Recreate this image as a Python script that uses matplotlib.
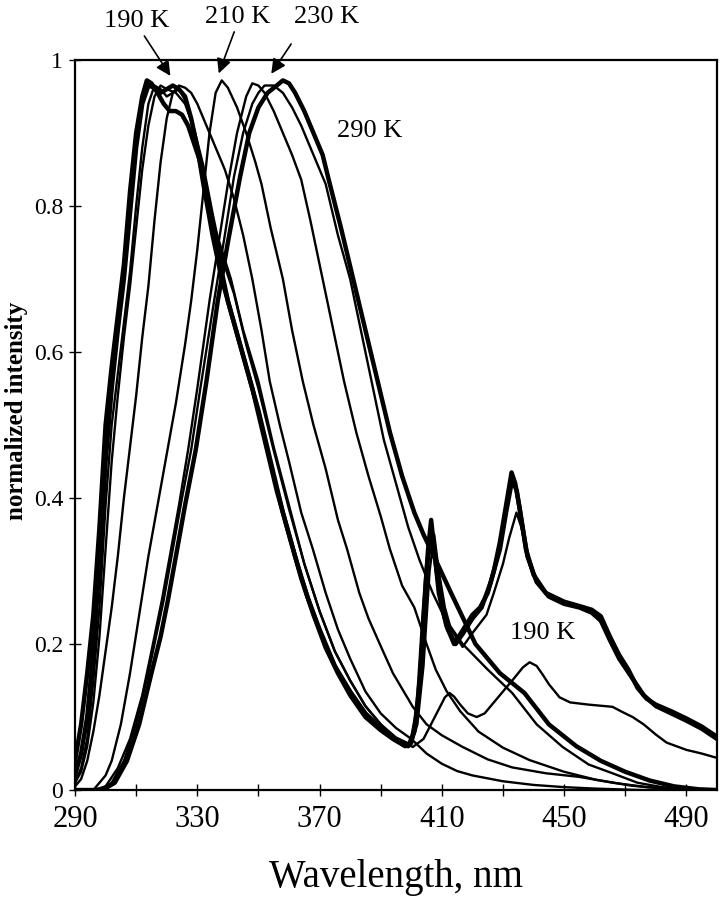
import matplotlib
matplotlib.use("Agg")
import matplotlib.pyplot as plt

plt.rcParams['font.family'] = ['Liberation Serif', 'DejaVu Serif']

# ---------------------------------------------------------------- data
# thick low-temperature curves (fluorescence + phosphorescence)
wl_a1 = [290, 292, 294, 296, 298, 300, 302, 304, 306, 308, 310, 312, 313.5, 315, 317, 319, 321, 323, 325,
         327, 329, 331, 334, 337, 340, 344, 348, 352, 356, 360, 364, 368, 372, 376, 380, 385, 390, 394, 398,
         400, 402, 404, 405.5, 406.5, 407.5, 409, 411.5, 414, 417, 420, 422.5, 425, 427, 429, 431, 432.8,
         434, 435.5, 437.5, 440, 444, 450, 455, 459, 462, 465, 468, 471, 474, 477, 480, 485, 490, 495, 500]
int_a1 = [0.04, 0.09, 0.16, 0.24, 0.36, 0.50, 0.58, 0.65, 0.72, 0.82, 0.90, 0.95, 0.972, 0.968, 0.955,
          0.94, 0.93, 0.93, 0.925, 0.91, 0.885, 0.86, 0.80, 0.73, 0.67, 0.61, 0.55, 0.48, 0.41, 0.35, 0.29,
          0.24, 0.195, 0.16, 0.13, 0.10, 0.082, 0.07, 0.06, 0.065, 0.11, 0.24, 0.33, 0.37, 0.33, 0.27,
          0.225, 0.20, 0.22, 0.24, 0.25, 0.27, 0.30, 0.34, 0.39, 0.435, 0.42, 0.385, 0.33, 0.295, 0.27,
          0.258, 0.252, 0.247, 0.238, 0.21, 0.185, 0.165, 0.14, 0.125, 0.117, 0.108, 0.098, 0.087, 0.073]

wl_a2 = [290, 292, 294, 296, 298, 300, 302, 304, 306, 308, 310, 312, 314, 316, 318, 320, 322, 324, 326,
         328, 330, 332, 335, 338, 342, 346, 350, 354, 358, 362, 366, 370, 375, 380, 385, 390, 395, 399,
         401, 403, 405, 406.5, 408, 410, 412, 414.5, 417, 420, 423, 426, 429, 431, 433, 434.5, 436, 438,
         441, 445, 450, 455, 459, 462, 465, 468, 472, 476, 480, 485, 490, 495, 500]
int_a2 = [0.02, 0.05, 0.10, 0.19, 0.31, 0.45, 0.55, 0.63, 0.70, 0.79, 0.88, 0.94, 0.965, 0.962, 0.955,
          0.96, 0.965, 0.96, 0.95, 0.92, 0.88, 0.83, 0.76, 0.70, 0.64, 0.58, 0.52, 0.45, 0.38, 0.32, 0.265,
          0.22, 0.17, 0.135, 0.105, 0.085, 0.068, 0.06, 0.08, 0.16, 0.30, 0.36, 0.31, 0.25, 0.22, 0.20,
          0.215, 0.235, 0.25, 0.285, 0.33, 0.38, 0.425, 0.41, 0.37, 0.32, 0.285, 0.265, 0.255, 0.25,
          0.243, 0.232, 0.205, 0.18, 0.155, 0.13, 0.115, 0.105, 0.095, 0.084, 0.07]

# thin curve, phosphorescence peak 0.38 (190 K)
wl_a3 = [290, 292, 294, 296, 298, 300, 302, 304, 306, 308, 310, 312, 314, 316, 318, 320, 322, 324, 326,
         328, 330, 332, 335, 338, 341, 345, 350, 355, 360, 365, 370, 375, 380, 385, 390, 395, 400, 402,
         404, 406, 407.5, 409, 411, 413, 416.8, 420, 424.6, 427, 430, 432, 434.4, 436, 438, 441, 445, 450,
         455, 460, 464, 468, 472, 476, 480, 485, 490, 495, 500]
int_a3 = [0.01, 0.03, 0.07, 0.15, 0.25, 0.39, 0.50, 0.57, 0.64, 0.71, 0.80, 0.88, 0.94, 0.965, 0.96,
          0.95, 0.955, 0.96, 0.945, 0.92, 0.885, 0.845, 0.78, 0.74, 0.70, 0.63, 0.56, 0.47, 0.39, 0.31,
          0.245, 0.19, 0.15, 0.115, 0.09, 0.072, 0.062, 0.09, 0.17, 0.30, 0.35, 0.30, 0.25, 0.22, 0.196,
          0.215, 0.24, 0.27, 0.31, 0.345, 0.38, 0.36, 0.32, 0.285, 0.265, 0.255, 0.25, 0.24, 0.22, 0.185,
          0.155, 0.13, 0.117, 0.107, 0.097, 0.086, 0.072]

# thin curve, weak phosphorescence (peak 0.175)
wl_a4 = [290, 292, 294, 296, 298, 300, 302, 304, 306, 308, 310, 312, 314, 316, 318, 320, 323, 326, 329,
         332, 335, 338, 342, 346, 350, 355, 360, 365, 370, 375, 380, 385, 390, 395, 400.5, 404, 408.3,
         411, 412.5, 414, 416, 418.5, 421.4, 424, 427, 431, 434, 436.5, 438.7, 441, 443, 445, 448.5, 452,
         458, 465.8, 469, 472.4, 476, 480, 483.5, 490, 495, 500]
int_a4 = [0.01, 0.025, 0.06, 0.12, 0.21, 0.33, 0.45, 0.54, 0.62, 0.69, 0.77, 0.85, 0.91, 0.95, 0.965,
          0.96, 0.955, 0.94, 0.905, 0.855, 0.79, 0.73, 0.68, 0.61, 0.55, 0.465, 0.385, 0.31, 0.245, 0.19,
          0.15, 0.115, 0.09, 0.07, 0.059, 0.07, 0.105, 0.127, 0.133, 0.128, 0.117, 0.105, 0.10, 0.105,
          0.12, 0.14, 0.155, 0.168, 0.175, 0.17, 0.158, 0.145, 0.127, 0.12, 0.117, 0.114, 0.107, 0.10,
          0.09, 0.076, 0.065, 0.055, 0.05, 0.044]

# fluorescence only, peak near 324 nm
wl_b = [290, 292, 294, 296, 298, 300, 302, 304, 306, 308, 310, 312, 314, 316, 318, 320, 322, 324, 326,
        328, 330, 333, 336, 339, 342, 345, 348, 351, 353.7, 357, 360, 364, 367.8, 372, 376, 380, 385, 390,
        395, 400, 405, 410, 415, 420, 430, 440, 450, 460, 475, 500]
int_b = [0.005, 0.015, 0.04, 0.08, 0.13, 0.19, 0.25, 0.32, 0.40, 0.47, 0.54, 0.62, 0.69, 0.78, 0.86,
         0.92, 0.955, 0.965, 0.962, 0.955, 0.94, 0.91, 0.88, 0.85, 0.81, 0.76, 0.70, 0.63, 0.56, 0.50,
         0.45, 0.38, 0.33, 0.27, 0.22, 0.18, 0.135, 0.105, 0.085, 0.07, 0.05, 0.036, 0.026, 0.02, 0.012,
         0.007, 0.004, 0.002, 0.0, 0.0]

# 210 K, peak 337 nm
wl_c = [290, 296, 298, 300, 302, 305, 308, 311, 314, 317, 320, 323, 326, 328, 330, 332, 334, 336, 338,
        340, 343, 346, 349, 351, 354, 358, 361, 364.5, 368, 372, 376, 379, 383, 386, 389.7, 394, 400.5,
        405, 410, 416.8, 425, 433, 444, 455, 466, 477, 490, 500]
int_c = [0.0, 0.0, 0.01, 0.02, 0.04, 0.09, 0.16, 0.24, 0.32, 0.39, 0.46, 0.53, 0.61, 0.67, 0.74, 0.82,
         0.90, 0.955, 0.972, 0.962, 0.935, 0.90, 0.86, 0.83, 0.77, 0.70, 0.63, 0.56, 0.50, 0.44, 0.37,
         0.33, 0.27, 0.235, 0.20, 0.16, 0.114, 0.09, 0.075, 0.059, 0.042, 0.031, 0.023, 0.018, 0.01,
         0.004, 0.001, 0.0]

# peak 348 nm
wl_d1 = [290, 296, 300, 304, 308, 312, 315, 318.4, 321, 324, 327, 330, 334, 337, 340, 343, 346, 348, 350,
         352, 355, 358, 361, 364, 367, 371, 374, 378, 382, 386, 390, 393, 397, 401, 405, 408, 411.6, 416,
         422, 430, 438.7, 450, 460.5, 472, 485, 500]
int_d1 = [0.0, 0.0, 0.005, 0.03, 0.07, 0.13, 0.19, 0.26, 0.32, 0.39, 0.466, 0.55, 0.67, 0.75, 0.83,
          0.90, 0.95, 0.968, 0.965, 0.955, 0.93, 0.90, 0.87, 0.836, 0.78, 0.70, 0.64, 0.56, 0.49, 0.43,
          0.375, 0.33, 0.28, 0.25, 0.20, 0.165, 0.135, 0.108, 0.08, 0.058, 0.041, 0.025, 0.014, 0.006,
          0.001, 0.0]

# 230 K, peak 352 nm
wl_d2 = [290, 298, 302, 306, 310, 314, 317, 319, 322, 325, 328, 331, 335.5, 339, 342, 345, 348, 350, 352,
         355, 358, 361, 364, 367, 370, 372, 376, 380, 384, 387, 391, 395, 399, 402.7, 407, 411, 416.8,
         425, 433, 441, 449.5, 458, 465.8, 474, 482, 490, 500]
int_d2 = [0.0, 0.0, 0.01, 0.04, 0.09, 0.16, 0.22, 0.26, 0.33, 0.40, 0.466, 0.55, 0.67, 0.76, 0.84,
          0.90, 0.94, 0.955, 0.965, 0.965, 0.955, 0.935, 0.91, 0.88, 0.85, 0.83, 0.76, 0.70, 0.62, 0.56,
          0.48, 0.42, 0.36, 0.315, 0.27, 0.235, 0.20, 0.165, 0.133, 0.09, 0.059, 0.035, 0.023, 0.01,
          0.004, 0.001, 0.0]

# 290 K, peak 358 nm
wl_d3 = [290, 299, 303, 307, 311, 315, 318, 320.4, 323, 326, 329.5, 333, 336.7, 340, 344, 347, 350, 353,
         356, 358, 360, 362, 365, 368, 371, 373, 377, 381, 385, 389, 393, 397, 401, 404, 408, 413, 417,
         421, 429, 437, 445, 454, 462, 470, 478, 486, 494, 500]
int_d3 = [0.0, 0.0, 0.01, 0.04, 0.09, 0.16, 0.21, 0.26, 0.32, 0.39, 0.466, 0.56, 0.67, 0.75, 0.84, 0.90,
          0.935, 0.955, 0.965, 0.972, 0.968, 0.955, 0.93, 0.90, 0.87, 0.836, 0.77, 0.70, 0.63, 0.56, 0.49,
          0.43, 0.38, 0.35, 0.315, 0.27, 0.235, 0.20, 0.16, 0.133, 0.09, 0.06, 0.04, 0.025, 0.013, 0.005,
          0.001, 0.0]

x_ticks = [290, 310, 330, 350, 370, 390, 410, 430, 450, 470, 490]
x_tick_labels = ['290', '', '330', '', '370', '', '410', '', '450', '', '490']
y_ticks = [0, 0.2, 0.4, 0.6, 0.8, 1]
y_tick_labels = ['0', '0.2', '0.4', '0.6', '0.8', '1']

# ---------------------------------------------------------------- plotting
fig = plt.figure(figsize=(7.26, 8.99), dpi=100)
ax = fig.add_axes([0.1033, 0.1212, 0.8843, 0.8121])

thin = 1.7
thick = 3.2
ax.plot(wl_d1, int_d1, color='black', lw=thin, solid_joinstyle='round')
ax.plot(wl_d2, int_d2, color='black', lw=thin, solid_joinstyle='round')
ax.plot(wl_d3, int_d3, color='black', lw=thick, solid_joinstyle='round')
ax.plot(wl_c, int_c, color='black', lw=thin, solid_joinstyle='round')
ax.plot(wl_b, int_b, color='black', lw=thin, solid_joinstyle='round')
ax.plot(wl_a4, int_a4, color='black', lw=thin, solid_joinstyle='round')
ax.plot(wl_a3, int_a3, color='black', lw=thin, solid_joinstyle='round')
ax.plot(wl_a2, int_a2, color='black', lw=thick, solid_joinstyle='round')
ax.plot(wl_a1, int_a1, color='black', lw=thick, solid_joinstyle='round')

# labels with arrows
ax.annotate('', xy=(321.7, 0.975), xytext=(312.2, 1.036), annotation_clip=False,
            arrowprops=dict(arrowstyle='-|>', color='black', lw=1.2, mutation_scale=22))
ax.annotate('', xy=(336.7, 0.978), xytext=(342.4, 1.042), annotation_clip=False,
            arrowprops=dict(arrowstyle='-|>', color='black', lw=1.2, mutation_scale=22))
ax.annotate('', xy=(353.7, 0.978), xytext=(361.2, 1.025), annotation_clip=False,
            arrowprops=dict(arrowstyle='-|>', color='black', lw=1.2, mutation_scale=22))
ax.text(310.3, 1.053, '190 K', fontsize=19, ha='center', va='center', clip_on=False)
ax.text(343.3, 1.059, '210 K', fontsize=19, ha='center', va='center', clip_on=False)
ax.text(372.4, 1.059, '230 K', fontsize=19, ha='center', va='center', clip_on=False)
ax.text(386.4, 0.903, '290 K', fontsize=19, ha='center', va='center')
ax.text(443.0, 0.215, '190 K', fontsize=19, ha='center', va='center')

# styling
ax.set_xlim(290, 500)
ax.set_ylim(0, 1)
ax.set_xticks(x_ticks)
ax.set_xticklabels(x_tick_labels, fontsize=22)
ax.set_yticks(y_ticks)
ax.set_yticklabels(y_tick_labels, fontsize=17)
ax.tick_params(axis='both', direction='inout', length=9, width=1, colors='black')
ax.tick_params(axis='x', pad=6)
ax.tick_params(axis='y', pad=4)
for s in ax.spines.values():
    s.set_linewidth(1.6)
ax.set_xlabel('Wavelength, nm', fontsize=28, labelpad=18)
ax.set_ylabel('normalized intensity', fontsize=18, fontweight='bold')
ax.yaxis.set_label_coords(-0.073, 0.52)

plt.savefig('out.png', dpi=100)
plt.close('all')
